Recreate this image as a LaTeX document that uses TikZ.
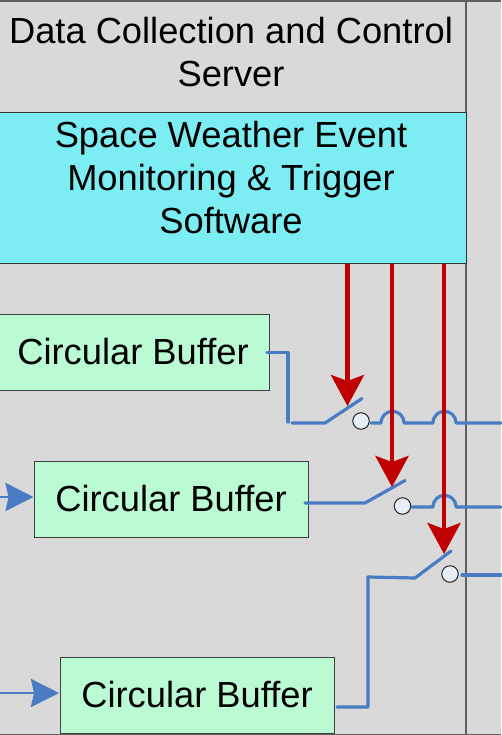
\documentclass[tikz,border=0pt]{standalone}
\usepackage{fontspec}
\setmainfont{Liberation Sans}
\usetikzlibrary{arrows.meta}
\definecolor{panelgray}{HTML}{D9D9D9}
\definecolor{cyanbox}{HTML}{7CEEF3}
\definecolor{greenbox}{HTML}{BBFBD3}
\definecolor{wireblue}{HTML}{4A7CC4}
\definecolor{trigred}{HTML}{C00000}
\definecolor{contact}{HTML}{E8EEF8}
\definecolor{edgegray}{HTML}{5F5F5F}
\newcommand{\buftext}{\raisebox{1.5pt}{Circular Buffer}}
\tikzset{
  x=1pt,y=-1pt,
  bodytext/.style={font=\fontsize{36.3}{43}\selectfont,align=center,text=black,inner sep=0pt},
  buffer/.style={draw=black!75,line width=1pt,fill=greenbox,minimum width=274pt,minimum height=76pt,inner sep=0pt,font=\fontsize{36.3}{43}\selectfont},
  wire/.style={draw=wireblue,line width=3.2pt,line cap=round,line join=round},
  feed/.style={draw=wireblue,line width=2.8pt,-{Stealth[length=28pt,width=28pt,inset=3pt]}},
  trigger/.style={draw=trigred,line width=4.4pt,-{Stealth[length=31pt,width=33pt,inset=6pt]}},
  contactpt/.style={circle,draw=black!85,line width=1pt,fill=contact,minimum size=16.5pt,inner sep=0pt}
}
\begin{document}
\begin{tikzpicture}
\useasboundingbox (0,0) rectangle (501,735);
\fill[panelgray] (0,0) rectangle (501,735);
\draw[edgegray,line width=1.2pt] (0,1) -- (501,1);
\draw[edgegray,line width=1.2pt] (0,734.4) -- (501,734.4);
\draw[edgegray,line width=1.5pt] (466,0) -- (466,735);
\node[bodytext] (title) at (231,52) {Data Collection and Control\\Server};
\node[draw=black!80,line width=1pt,fill=cyanbox,minimum width=469pt,minimum height=150pt,inner sep=0pt] (monitor) at (232,188) {};
\node[bodytext] (monitortext) at (231,178) {Space Weather Event\\Monitoring \& Trigger\\Software};
\node[buffer,minimum width=273pt] (buf1) at (133,352) {\buftext};
\node[buffer] (buf2) at (171,499) {\buftext};
\node[buffer] (buf3) at (197,695.5) {\buftext};
\coordinate (f2) at (0,497);
\coordinate (f3) at (0,693);
\draw[feed] (f2) -- (buf2.west |- f2);
\draw[feed] (f3) -- (59,693) coordinate (f3end);
% switch 1
\node[contactpt] (c1) at (361,421) {};
\coordinate (s1a) at (267,352.5);
\coordinate (s1b) at (288,352.5);
\coordinate (s1c) at (288,422);
\coordinate (s1d) at (292,423);
\coordinate (s1e) at (325,423);
\coordinate (s1f) at (362,398.5);
\coordinate (s1o) at (501,423);
\coordinate (s1g) at (371,423);
\draw[wire] (s1a) -- (s1b) -- (s1c);
\draw[wire] (s1d) -- (s1e) -- (s1f);
\draw[wire] (s1g) -- (381,423) .. controls (381.5,407.5) and (403.5,407.5) .. (404,423) -- (433,423) .. controls (433.5,407.5) and (455.5,407.5) .. (456,423) -- (s1o);
% switch 2
\node[contactpt] (c2) at (402.5,506) {};
\coordinate (s2a) at (305,503);
\coordinate (s2e) at (365,503);
\coordinate (s2f) at (405,480.5);
\coordinate (s2g) at (412,507);
\coordinate (s2o) at (501,507);
\draw[wire] (s2a) -- (s2e) -- (s2f);
\draw[wire] (s2g) -- (433,507) .. controls (433.5,491.5) and (455.5,491.5) .. (456,507) -- (s2o);
% switch 3
\node[contactpt] (c3) at (450,574) {};
\coordinate (s3a) at (337,707);
\coordinate (s3b) at (368,707);
\coordinate (s3c) at (368,577);
\coordinate (s3e) at (415,578);
\coordinate (s3f) at (451,551);
\coordinate (s3g) at (462,575);
\coordinate (s3o) at (501,575);
\draw[wire] (s3a) -- (s3b) -- (s3c) -- (s3e) -- (s3f);
\draw[wire] (s3g) -- (s3o);
% triggers
\coordinate (t1) at (347.5,406);
\coordinate (t2) at (392,487);
\coordinate (t3) at (444,554);
\draw[trigger] (monitor.south -| t1) -- (t1);
\draw[trigger] (monitor.south -| t2) -- (t2);
\draw[trigger] (monitor.south -| t3) -- (t3);
\end{tikzpicture}
\end{document}
